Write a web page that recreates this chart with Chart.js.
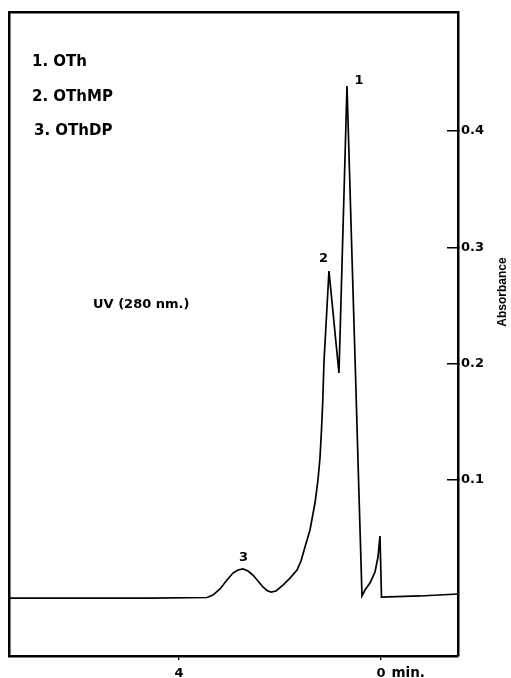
<!DOCTYPE html>
<html>
<head>
<meta charset="utf-8">
<script src="https://cdn.jsdelivr.net/npm/chart.js@4.4.1/dist/chart.umd.min.js"></script>
<style>
  html, body { margin: 0; padding: 0; background: #fff; }
</style>
</head>
<body>
<canvas id="chart" width="511" height="678"></canvas>
<script>
// retention time in minutes (axis runs backwards, injection at 0 on the right)
const retentionTimes = [
  7.366, 4.574, 3.446, 3.327, 3.188, 3.050, 2.931, 2.832, 2.733, 2.634,
  2.535, 2.436, 2.337, 2.257, 2.178, 2.079, 1.941, 1.802, 1.663, 1.584,
  1.505, 1.406, 1.307, 1.248, 1.208, 1.178, 1.152, 1.129, 1.030, 0.832,
  0.673, 0.574, 0.507, 0.450, 0.376, 0.317, 0.218, 0.119, 0.059, 0.020,
  -0.010, -0.772, -1.525
];
// UV absorbance at 280 nm
const absorbance = [
  -0.0015, -0.0015, -0.0010, 0.0011, 0.0063, 0.0140, 0.0200, 0.0226, 0.0235, 0.0217,
  0.0183, 0.0132, 0.0080, 0.0050, 0.0037, 0.0046, 0.0097, 0.0157, 0.0226, 0.0303,
  0.0424, 0.0570, 0.0802, 0.1000, 0.1189, 0.1430, 0.1688, 0.2015, 0.2796, 0.1920,
  0.4387, 0.2917, 0.1946, 0.1086, 0.0003, 0.0054, 0.0114, 0.0209, 0.0338, 0.0518,
  -0.0006, 0.0003, 0.0020
];

const timeTicks = [4, 0];
const absorbanceTicks = [0.1, 0.2, 0.3, 0.4];

const peakNames = ['1. OTh', '2. OThMP', '3. OThDP'];
const peakNumbers = ['1', '2', '3'];
const peakTimes = [0.673, 1.030, 2.733];
const peakHeights = [0.4387, 0.2796, 0.0235];

const detectorNote = 'UV (280 nm.)';
const yTitle = 'Absorbance';
const timeUnit = 'min.';

const points = retentionTimes.map((t, i) => ({ x: t, y: absorbance[i] }));

const FONT = '"DejaVu Sans", sans-serif';

// keep the frame where the plot is, no room reserved for label overhang
const noOverhang = s => {
  s.paddingTop = 0; s.paddingBottom = 0;
  s.paddingLeft = 0; s.paddingRight = 0;
};

const notes = {
  id: 'notes',
  afterDraw(chart) {
    const { ctx, scales: { x, y } } = chart;
    ctx.save();
    ctx.fillStyle = '#000';
    ctx.textBaseline = 'middle';

    // peak list, top left
    ctx.textAlign = 'left';
    ctx.font = 'bold 15px ' + FONT;
    const rows = [[32, 62], [32, 97], [34, 131.5]];
    peakNames.forEach((t, i) => ctx.fillText(t, rows[i][0], rows[i][1]));

    ctx.font = 'bold 13px ' + FONT;
    ctx.fillText(detectorNote, 93, 305);

    // numbers over the peaks
    ctx.textAlign = 'center';
    ctx.font = 'bold 13px ' + FONT;
    const offs = [[12, -5], [-5.5, -12.5], [0.5, -11.5]];
    peakNumbers.forEach((t, i) => {
      ctx.fillText(t,
        x.getPixelForValue(peakTimes[i]) + offs[i][0],
        y.getPixelForValue(peakHeights[i]) + offs[i][1]);
    });

    // unit next to the 0 tick
    ctx.textAlign = 'left';
    const zx = x.getPixelForValue(0);
    const halfZero = ctx.measureText('0').width / 2;
    ctx.font = 'bold 13.5px ' + FONT;
    ctx.fillText(timeUnit, zx + halfZero + 6, x.top + 4 + 6 + 7.3);

    // axis title, reads bottom to top
    ctx.translate(503, 292);
    ctx.rotate(-Math.PI / 2);
    ctx.textAlign = 'center';
    ctx.font = 'bold 12px "Liberation Sans", sans-serif';
    ctx.fillText(yTitle, 0, 0);
    ctx.restore();
  }
};

const whiteBg = {
  id: 'whiteBg',
  beforeDraw(chart) {
    const { ctx, width, height } = chart;
    ctx.save();
    ctx.fillStyle = '#fff';
    ctx.fillRect(0, 0, width, height);
    ctx.restore();
  }
};

new Chart(document.getElementById('chart'), {
  type: 'line',
  data: {
    datasets: [{
      data: points,
      borderColor: '#000',
      borderWidth: 1.7,
      pointRadius: 0,
      tension: 0,
      fill: false
    }]
  },
  options: {
    responsive: false,
    animation: false,
    layout: { padding: 0 },
    plugins: {
      legend: { display: false },
      tooltip: { enabled: false }
    },
    scales: {
      x: {
        type: 'linear',
        position: 'bottom',
        reverse: true,
        min: -1.525,
        max: 7.366,
        afterBuildTicks: s => { s.ticks = timeTicks.map(v => ({ value: v })); },
        afterFit: s => { s.height = 22; noOverhang(s); },
        ticks: {
          color: '#000',
          padding: 6,
          font: { family: FONT, size: 13, weight: 'bold' },
          callback: v => String(v)
        },
        grid: { drawOnChartArea: false, color: '#000', lineWidth: 1.3, tickLength: 4 },
        border: { color: '#000', width: 2.5 }
      },
      y: {
        type: 'linear',
        position: 'right',
        min: -0.0513,
        max: 0.5023,
        afterBuildTicks: s => { s.ticks = absorbanceTicks.map(v => ({ value: v })); },
        afterFit: s => { s.width = 53; noOverhang(s); },
        ticks: {
          color: '#000',
          padding: 14,
          font: { family: FONT, size: 13, weight: 'bold' },
          callback: v => v.toFixed(1)
        },
        grid: { drawOnChartArea: false, color: '#000', lineWidth: 1.5, tickLength: -11 },
        border: { color: '#000', width: 2.5 }
      },
      xTop: {
        type: 'linear',
        position: 'top',
        afterFit: s => { s.height = 12; noOverhang(s); },
        ticks: { display: false },
        grid: { display: false },
        border: { color: '#000', width: 2.5 }
      },
      yLeft: {
        type: 'linear',
        position: 'left',
        afterFit: s => { s.width = 9; noOverhang(s); },
        ticks: { display: false },
        grid: { display: false },
        border: { color: '#000', width: 2.5 }
      }
    }
  },
  plugins: [whiteBg, notes]
});
</script>
</body>
</html>
